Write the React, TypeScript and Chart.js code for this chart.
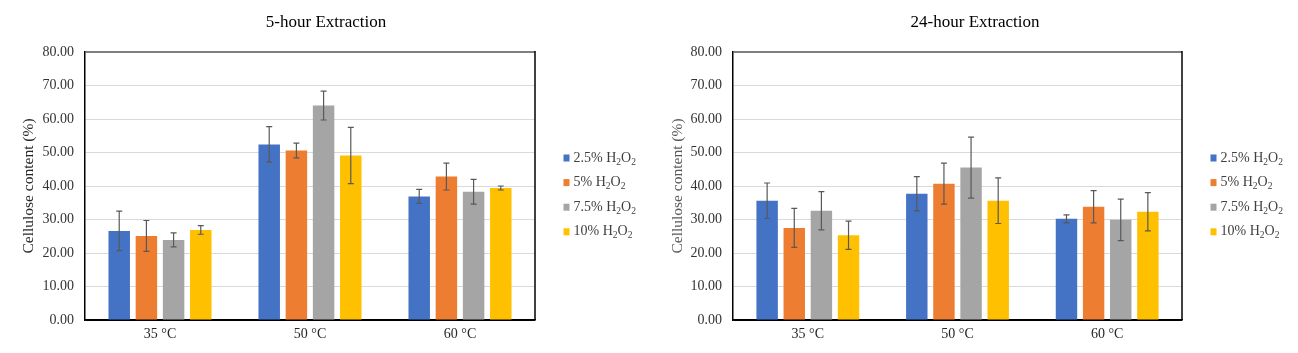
import React, { useEffect, useRef } from "react";
import { Chart, registerables } from "chart.js";

Chart.register(...registerables);

const categories = ["35 °C", "50 °C", "60 °C"];
const seriesLabels = ["2.5% H₂O₂", "5% H₂O₂", "7.5% H₂O₂", "10% H₂O₂"];
const seriesColors = ["#4472C4", "#ED7D31", "#A5A5A5", "#FFC000"];
const yTickValues = [0, 10, 20, 30, 40, 50, 60, 70, 80];

// 5-hour extraction (means and error amounts)
const fiveHour25 = [26.6, 52.4, 36.9];
const fiveHour25Err = [5.9, 5.3, 2.1];
const fiveHour5 = [25.1, 50.6, 42.8];
const fiveHour5Err = [4.6, 2.2, 4.0];
const fiveHour75 = [23.9, 64.0, 38.3];
const fiveHour75Err = [2.1, 4.3, 3.7];
const fiveHour10 = [26.9, 49.1, 39.4];
const fiveHour10Err = [1.3, 8.4, 0.6];

// 24-hour extraction
const dayHour25 = [35.6, 37.7, 30.2];
const dayHour25Err = [5.3, 5.1, 1.2];
const dayHour5 = [27.5, 40.7, 33.8];
const dayHour5Err = [5.8, 6.1, 4.8];
const dayHour75 = [32.6, 45.5, 29.9];
const dayHour75Err = [5.7, 9.1, 6.2];
const dayHour10 = [25.3, 35.6, 32.3];
const dayHour10Err = [4.2, 6.8, 5.7];

const FONT = "'Liberation Serif', 'Times New Roman', serif";

const errorBarPlugin = {
  id: "errorBars",
  afterDatasetsDraw(chart: any) {
    const ctx = chart.ctx;
    const yScale = chart.scales.y;
    const area = chart.chartArea;
    ctx.save();
    // right frame line of the plot box
    ctx.strokeStyle = "#000000";
    ctx.lineWidth = 1.5;
    ctx.beginPath();
    ctx.moveTo(area.right, area.top - 1);
    ctx.lineTo(area.right, area.bottom);
    ctx.stroke();

    ctx.strokeStyle = "#595959";
    ctx.lineWidth = 1.2;
    chart.data.datasets.forEach((ds: any, di: number) => {
      const meta = chart.getDatasetMeta(di);
      meta.data.forEach((bar: any, i: number) => {
        const v = ds.data[i];
        const e = ds.errors[i];
        const yTop = yScale.getPixelForValue(v + e);
        const yBot = yScale.getPixelForValue(v - e);
        const x = bar.x;
        const cap = 3;
        ctx.beginPath();
        ctx.moveTo(x, yTop);
        ctx.lineTo(x, yBot);
        ctx.moveTo(x - cap, yTop);
        ctx.lineTo(x + cap, yTop);
        ctx.moveTo(x - cap, yBot);
        ctx.lineTo(x + cap, yBot);
        ctx.stroke();
      });
    });
    ctx.restore();
  },
};

const legendPlugin = {
  id: "subLegend",
  afterDraw(chart: any, _args: any, opts: any) {
    const ctx = chart.ctx;
    const area = chart.chartArea;
    ctx.save();
    // chart heading, centred over the whole panel
    ctx.fillStyle = "#000000";
    ctx.font = `17px ${FONT}`;
    ctx.textAlign = "center";
    ctx.textBaseline = "middle";
    ctx.fillText(opts.title, 326, 22.5);

    const x0 = area.right + 28.5;
    const rowGap = 24.6;
    const startY = 158;
    ctx.textAlign = "left";
    chart.data.datasets.forEach((ds: any, i: number) => {
      const y = startY + i * rowGap;
      ctx.fillStyle = ds.backgroundColor;
      ctx.fillRect(x0, y - 3.5, 6, 7);
      let x = x0 + 10;
      ctx.fillStyle = "#404040";
      for (const ch of ds.label as string) {
        if (ch === "₂") {
          ctx.font = `9.5px ${FONT}`;
          ctx.fillText("2", x, y + 4);
          x += ctx.measureText("2").width;
        } else {
          ctx.font = `14px ${FONT}`;
          ctx.fillText(ch, x, y);
          x += ctx.measureText(ch).width;
        }
      }
    });
    ctx.restore();
  },
};

function buildConfig(
  title: string,
  series: number[][],
  errs: number[][],
  titleColor: string,
  axisWidth: number,
  rightPad: number
): any {
  return {
    type: "bar",
    data: {
      labels: categories,
      datasets: seriesLabels.map((label, i) => ({
        label,
        data: series[i],
        errors: errs[i],
        backgroundColor: seriesColors[i],
        borderWidth: 0,
        categoryPercentage: 0.725,
        barPercentage: 0.79,
      })),
    },
    options: {
      responsive: false,
      animation: false,
      devicePixelRatio: 1,
      layout: { padding: { left: 0, right: rightPad, top: 52, bottom: 0 } },
      plugins: {
        legend: { display: false },
        tooltip: { enabled: false },
        title: { display: false },
        subLegend: { title },
      },
      scales: {
        x: {
          grid: { display: false, drawTicks: false },
          border: { display: true, color: "#000000", width: 1.5 },
          ticks: { color: "#262626", font: { family: FONT, size: 14 }, padding: 6 },
          afterFit(scale: any) {
            scale.height = 33;
          },
        },
        y: {
          min: 0,
          max: 80,
          afterBuildTicks(scale: any) {
            scale.ticks = yTickValues.map((v) => ({ value: v }));
          },
          grid: {
            drawTicks: false,
            color: (c: any) =>
              c.tick && c.tick.value === 80 ? "#7F7F7F" : c.tick && c.tick.value === 0 ? "#000000" : "#D9D9D9",
            lineWidth: (c: any) => (c.tick && c.tick.value === 80 ? 2 : 1),
          },
          border: { display: true, color: "#000000", width: 1.5 },
          ticks: {
            color: "#333333",
            font: { family: FONT, size: 14 },
            padding: 11,
            callback: (v: any) => Number(v).toFixed(2),
          },
          title: {
            display: true,
            text: "Cellulose content (%)",
            color: titleColor,
            font: { family: FONT, size: 15.5 },
            padding: { top: 20, bottom: 0 },
          },
          afterFit(scale: any) {
            scale.width = axisWidth;
          },
        },
      },
    },
    plugins: [errorBarPlugin, legendPlugin],
  };
}

function BarChart(props: { config: any }) {
  const ref = useRef<HTMLCanvasElement | null>(null);
  useEffect(() => {
    if (!ref.current) return;
    const chart = new Chart(ref.current, props.config);
    return () => chart.destroy();
  }, [props.config]);
  return <canvas ref={ref} width={649} height={353} style={{ display: "block", width: 649, height: 353 }} />;
}

const fiveConfig = buildConfig(
  "5-hour Extraction",
  [fiveHour25, fiveHour5, fiveHour75, fiveHour10],
  [fiveHour25Err, fiveHour5Err, fiveHour75Err, fiveHour10Err],
  "#262626",
  85,
  114
);
const dayConfig = buildConfig(
  "24-hour Extraction",
  [dayHour25, dayHour5, dayHour75, dayHour10],
  [dayHour25Err, dayHour5Err, dayHour75Err, dayHour10Err],
  "#595959",
  84,
  116
);

export default function App() {
  return (
    <div
      style={{
        position: "fixed",
        left: 0,
        top: 0,
        width: 1298,
        height: 353,
        background: "#ffffff",
        display: "flex",
        flexDirection: "row",
      }}
    >
      <BarChart config={fiveConfig} />
      <BarChart config={dayConfig} />
    </div>
  );
}
